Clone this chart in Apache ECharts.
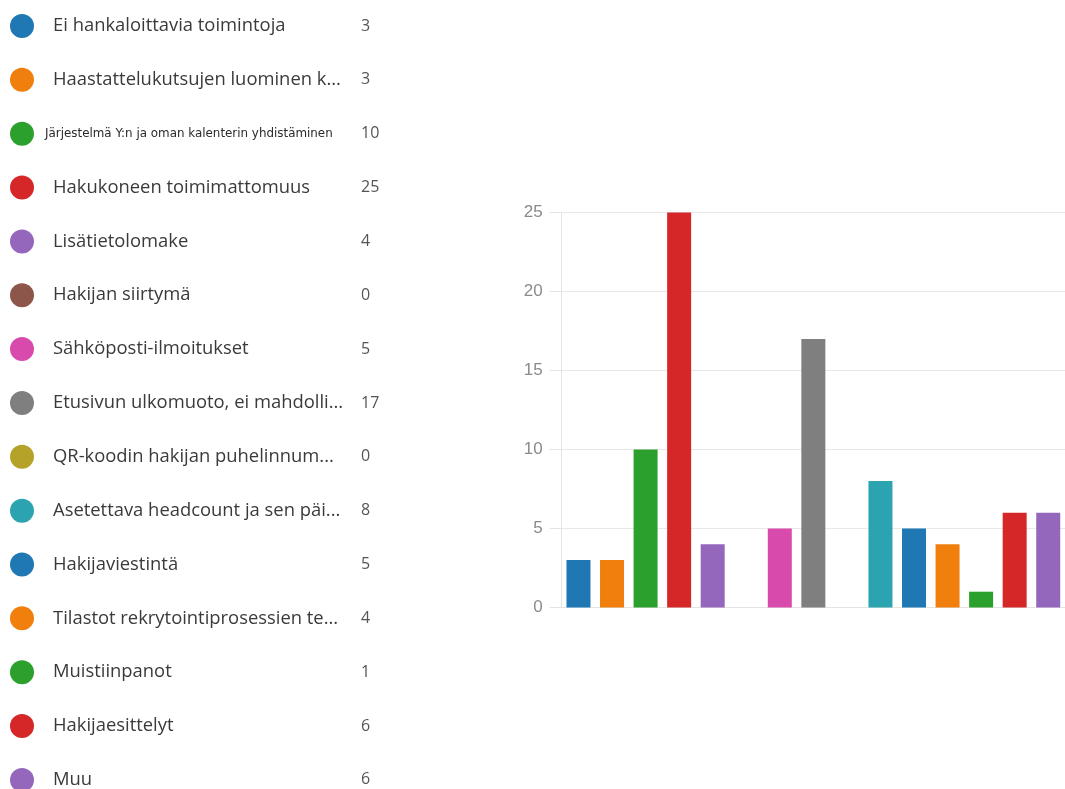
<!DOCTYPE html>
<html>
<head>
<meta charset="utf-8">
<script src="https://cdn.jsdelivr.net/npm/echarts@6/dist/echarts.min.js"></script>
<style>
  html, body { margin: 0; padding: 0; background: #ffffff; overflow: hidden; }
  #chart { width: 1065px; height: 789px; }
</style>
</head>
<body>
<div id="chart"></div>
<script>
// Survey answers: one entry per option, shown both in the legend list and as bars
const categories = [
  'Ei hankaloittavia toimintoja',
  'Haastattelukutsujen luominen k...',
  'Järjestelmä Y:n ja oman kalenterin yhdistäminen',
  'Hakukoneen toimimattomuus',
  'Lisätietolomake',
  'Hakijan siirtymä',
  'Sähköposti-ilmoitukset',
  'Etusivun ulkomuoto, ei mahdolli...',
  'QR-koodin hakijan puhelinnum...',
  'Asetettava headcount ja sen päi...',
  'Hakijaviestintä',
  'Tilastot rekrytointiprosessien te...',
  'Muistiinpanot',
  'Hakijaesittelyt',
  'Muu'
];
const counts = [3, 3, 10, 25, 4, 0, 5, 17, 0, 8, 5, 4, 1, 6, 6];
const colors = [
  '#1f77b4', '#f07f0e', '#2ca02c', '#d62728', '#9467bd',
  '#8c564b', '#d84bad', '#7f7f7f', '#b5a228', '#2ba3b0',
  '#1f77b4', '#f07f0e', '#2ca02c', '#d62728', '#9467bd'
];
const yTicks = { min: 0, max: 25, interval: 5 };

// The long third option is printed in a much smaller type
const smallLabelIndex = 2;

const chart = echarts.init(document.getElementById('chart'), null, { renderer: 'canvas' });

// One series per option so that each gets its own legend row; all bars share a slot
const series = categories.map((name, i) => ({
  name: name,
  type: 'bar',
  barWidth: 24,
  barGap: '-100%',
  itemStyle: { color: colors[i] },
  data: categories.map((_, j) => (j === i ? counts[i] : '-'))
}));

const option = {
  animation: false,
  backgroundColor: '#ffffff',
  color: colors,
  legend: {
    orient: 'vertical',
    left: 10,
    top: 14,
    height: 820,
    padding: 0,
    icon: 'circle',
    itemWidth: 24,
    itemHeight: 24,
    itemGap: 29.85,
    selectedMode: false,
    data: categories,
    formatter: function (name) {
      const i = categories.indexOf(name);
      const nameStyle = i === smallLabelIndex ? 's' : 'n';
      return '{' + nameStyle + '|' + name + '}{v|' + counts[i] + '}';
    },
    textStyle: {
      rich: {
        n: {
          fontFamily: '"Open Sans", "Noto Sans", sans-serif',
          fontSize: 18.4,
          color: '#3a3a3a',
          width: 308,
          padding: [0, 0, 0, 14]
        },
        s: {
          fontFamily: '"DejaVu Sans", sans-serif',
          fontSize: 11.9,
          color: '#2a2a2a',
          width: 316,
          padding: [0, 0, 0, 6]
        },
        v: {
          fontFamily: '"Open Sans", "Noto Sans", sans-serif',
          fontSize: 16,
          color: '#555555',
          align: 'left'
        }
      }
    }
  },
  grid: {
    left: 561.7,
    top: 212.5,
    width: 513,
    height: 395,
    containLabel: false
  },
  xAxis: {
    type: 'category',
    data: categories,
    axisLine: { show: true, lineStyle: { color: '#e4e4e4', width: 1 } },
    axisTick: { show: false },
    axisLabel: { show: false }
  },
  yAxis: {
    type: 'value',
    min: yTicks.min,
    max: yTicks.max,
    interval: yTicks.interval,
    axisLine: { show: true, lineStyle: { color: '#e4e4e4', width: 1 } },
    axisTick: { show: true, length: 12, lineStyle: { color: '#e4e4e4' } },
    splitLine: { show: true, lineStyle: { color: '#e8e8e8', width: 1 } },
    axisLabel: {
      margin: 19,
      fontFamily: '"Liberation Sans", Arial, sans-serif',
      fontSize: 17,
      color: '#8a8a8a'
    }
  },
  series: series
};

chart.setOption(option);
</script>
</body>
</html>
